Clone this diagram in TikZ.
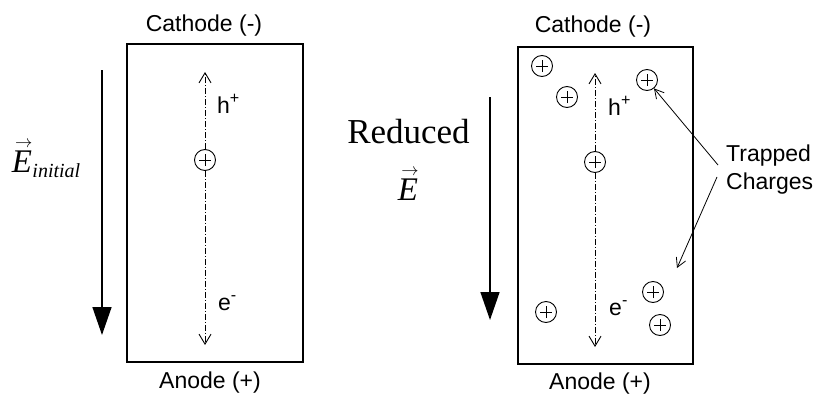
\documentclass[tikz,border=0pt]{standalone}
\usepackage{amsmath}
\usepackage{fontspec}
\setmainfont{Liberation Sans}
\newfontfamily\timesfont{Liberation Serif}
\usetikzlibrary{arrows.meta,positioning}
\newcommand{\vecE}{\overset{\raisebox{-2pt}{\fontsize{18}{18}\selectfont\hspace{4pt}$\rightarrow$}}{\text{\timesfont\itshape E}}}

\begin{document}
\begin{tikzpicture}[x=1pt,y=-1pt,
  lbl/.style={font=\fontsize{23}{28}\selectfont,inner sep=0pt},
  cell/.style={draw,line width=1.5pt,inner sep=0pt},
  charge/.style={draw,circle,line width=0.9pt,minimum size=21pt,inner sep=0pt,
    path picture={\draw[line width=0.9pt]
      ([xshift=-6pt]path picture bounding box.center)--([xshift=6pt]path picture bounding box.center)
      ([yshift=-6pt]path picture bounding box.center)--([yshift=6pt]path picture bounding box.center);}},
  track/.style={line width=0.9pt,dash pattern=on 6pt off 2pt on 1pt off 2pt,-{Straight Barb[length=10pt,width=12pt]}},
  field/.style={line width=1.5pt,-{Triangle[length=28pt,width=19pt]}},
  pointer/.style={line width=0.8pt,-{Straight Barb[length=9pt,width=10pt]}}]
\useasboundingbox (0,0) rectangle (818,396);

\node[cell,minimum width=176pt,minimum height=318pt] (boxL) at (215,203) {};
\node[lbl,anchor=base] (cathL) at (204,32) {Cathode (-)};
\node[lbl,anchor=base] (anL) at (210,388) {Anode (+)};
\node[charge] (cL) at (205,160) {};
\coordinate (topL) at (205,72);
\coordinate (botL) at (205,345);
\draw[track] (cL) -- (topL);
\draw[track] (cL) -- (botL);
\node[lbl,anchor=base west] (hL) at (217,113) {h\textsuperscript{+}};
\node[lbl,anchor=base west] (eL) at (218,310) {e\textsuperscript{-}};
\coordinate (fL1) at (102,70);
\coordinate (fL2) at (102,335);
\draw[field] (fL1) -- (fL2);
\node[font=\fontsize{33}{40}\selectfont,inner sep=0pt,anchor=base west] (eInit) at (11,172)
  {$\vecE_{\text{\fontsize{20}{20}\selectfont\timesfont\itshape initial}}$};

\node[font=\fontsize{35}{40}\selectfont\timesfont,inner sep=0pt,anchor=base] (red) at (408.5,143) {Reduced};
\node[font=\fontsize{33}{40}\selectfont,inner sep=0pt,anchor=base] (redE) at (408,200) {$\vecE$};
\coordinate (fR1) at (490,97);
\coordinate (fR2) at (490,320);
\draw[field] (fR1) -- (fR2);

\node[cell,minimum width=175pt,minimum height=317pt] (boxR) at (605.5,205.5) {};
\node[lbl,anchor=base] (cathR) at (593,33) {Cathode (-)};
\node[lbl,anchor=base] (anR) at (600,389) {Anode (+)};
\node[charge] (cR) at (595,162) {};
\coordinate (topR) at (595,73);
\coordinate (botR) at (595,347);
\draw[track] (cR) -- (topR);
\draw[track] (cR) -- (botR);
\node[lbl,anchor=base west] (hR) at (608,115) {h\textsuperscript{+}};
\node[lbl,anchor=base west] (eR) at (609,315) {e\textsuperscript{-}};
\node[charge] (t1) at (542,66) {};
\node[charge] (t2) at (567,97) {};
\node[charge] (t3) at (647,80) {};
\node[charge] (t4) at (546,312) {};
\node[charge] (t5) at (653,292) {};
\node[charge] (t6) at (660,325) {};

\node[lbl,align=left,anchor=west] (tc) at (726,170) {Trapped\\Charges};
\coordinate (tcEnd) at (677,268);
\draw[pointer] ([xshift=-8pt,yshift=5pt]tc.west) -- (t3);
\draw[pointer] ([xshift=-9pt,yshift=-7pt]tc.west) -- (tcEnd);
\end{tikzpicture}
\end{document}
